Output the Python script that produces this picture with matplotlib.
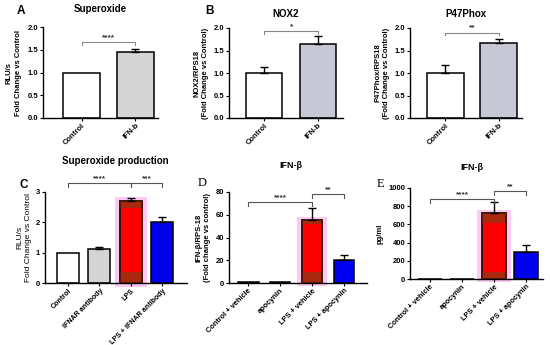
import matplotlib.pyplot as plt
import numpy as np

plt.rcParams['font.family'] = ['Liberation Sans', 'DejaVu Sans']
plt.rcParams['font.weight'] = 'bold'

# ============== DATA ==============
labels_ab = ['Control', 'IFN-b']
superoxide = [1.0, 1.46]
superoxide_err = [0.0, 0.06]
nox2 = [1.0, 1.65]
nox2_err = [0.13, 0.17]
p47 = [1.0, 1.66]
p47_err = [0.18, 0.10]

labels_c = ['Control', 'IFNAR antibody', 'LPS', 'LPS + IFNAR antibody']
superox_prod = [1.0, 1.13, 2.7, 2.0]
superox_prod_err = [0.0, 0.07, 0.10, 0.17]

labels_de = ['Control + vehicle', 'apocynin', 'LPS + vehicle', 'LPS + apocynin']
ifnb_mrna = [1.0, 0.5, 55, 20]
ifnb_mrna_err = [0.0, 0.0, 11, 5]
ifnb_pg = [0, 0, 720, 300]
ifnb_pg_err = [0, 0, 125, 70]

W, H = 550, 345
fig = plt.figure(figsize=(5.5, 3.45), dpi=100)


def add_ax(l, r, t, b):
    return fig.add_axes([l / W, 1 - b / H, (r - l) / W, (b - t) / H])


def style(ax, ymax, ticks, ticklabels, xlabels, xlim, xfs=5.5):
    ax.set_ylim(0, ymax)
    ax.set_xlim(*xlim)
    ax.set_yticks(ticks)
    ax.set_yticklabels(ticklabels, fontsize=5.5, fontweight='bold')
    ax.set_xticks(range(len(xlabels)))
    ax.set_xticklabels(xlabels, rotation=45, ha='right', rotation_mode='anchor',
                       fontsize=xfs, fontweight='bold')
    for s in ['top', 'right']:
        ax.spines[s].set_visible(False)
    for s in ['left', 'bottom']:
        ax.spines[s].set_linewidth(1.0)
    ax.tick_params(length=2.5, width=0.8, pad=1)
    ax.tick_params(axis='x', pad=0.5)
    ax.patch.set_alpha(0)


def bars(ax, vals, errs, colors, width, lps=None, bands=(0.1, 0.1)):
    x = np.arange(len(vals))
    if lps is not None:
        v = vals[lps]
        ax.bar(x[lps], v * 1.1, bottom=-v * 0.05, width=width + 0.3,
               color='#ff66dd', alpha=0.35, lw=0, clip_on=False, zorder=1)
    ax.bar(x, vals, width=width, color=colors, edgecolor='black', lw=1.1, zorder=2)
    if lps is not None:
        v = vals[lps]
        ax.bar(x[lps], v * bands[0], width=width, color='#a82810', lw=0, zorder=2.5)
        ax.bar(x[lps], v * bands[1], bottom=v * (1 - bands[1]), width=width,
               color='#a82810', lw=0, zorder=2.5)
        ax.bar(x[lps], v, width=width, fill=False, edgecolor='#3a1a00', lw=1.1, zorder=2.6)
    for xi, v, e in zip(x, vals, errs):
        if e > 0:
            ax.errorbar(xi, v, yerr=[[0], [e]], color='black', lw=1.0, capsize=3,
                        capthick=1.0, zorder=3)


def bracket(ax, x1, x2, y, drop, text, color='#888888', fs=6):
    ax.plot([x1, x1, x2, x2], [y - drop, y, y, y - drop], color=color, lw=0.8,
            clip_on=False, zorder=4)
    ax.text((x1 + x2) / 2, y + drop * 0.3, text, ha='center', va='bottom',
            fontsize=fs, fontweight='bold', color='#333333')


# ---- A: Superoxide
ax = add_ax(43, 158, 27, 118)
bars(ax, superoxide, superoxide_err, ['white', '#d4d4d4'], 0.68)
style(ax, 2.0, [0, 0.5, 1.0, 1.5, 2.0], ['0.0', '0.5', '1.0', '1.5', '2.0'],
      labels_ab, (-0.72, 1.42))
bracket(ax, 0, 1, 1.67, 0.06, '****')
ax.set_title('Superoxide', fontsize=7, fontweight='bold', pad=11)
ax.set_ylabel('RLU/s\nFold Change vs Control', fontsize=5.5, fontweight='bold',
              labelpad=4, linespacing=1.4)
fig.text(17 / W, 1 - 11 / H, 'A', fontsize=8.5, fontweight='bold', va='center')

# ---- B: NOX2
ax = add_ax(229, 343, 28, 118)
bars(ax, nox2, nox2_err, ['white', '#c6c8d6'], 0.67)
style(ax, 2.0, [0, 0.5, 1.0, 1.5, 2.0], ['0.0', '0.5', '1.0', '1.5', '2.0'],
      labels_ab, (-0.65, 1.46))
bracket(ax, 0, 1, 1.93, 0.06, '*')
ax.set_title('NOX2', fontsize=7, fontweight='bold', pad=8)
ax.set_ylabel('NOX2/RPS18\n(Fold Change vs Control)', fontsize=5.5, fontweight='bold',
              labelpad=3, linespacing=1.3)
fig.text(205 / W, 1 - 11 / H, 'B', fontsize=8.5, fontweight='bold', va='center')

# ---- P47Phox
ax = add_ax(410, 522, 28, 118)
bars(ax, p47, p47_err, ['white', '#c6c8d6'], 0.69)
style(ax, 2.0, [0, 0.5, 1.0, 1.5, 2.0], ['0.0', '0.5', '1.0', '1.5', '2.0'],
      labels_ab, (-0.66, 1.43))
bracket(ax, 0, 1, 1.9, 0.06, '**')
ax.set_title('P47Phox', fontsize=7, fontweight='bold', pad=8)
ax.set_ylabel('P47Phox/RPS18\n(Fold Change vs Control)', fontsize=5.5, fontweight='bold',
              labelpad=3, linespacing=1.3)

# ---- C: Superoxide production
ax = add_ax(45, 187, 192, 283)
bars(ax, superox_prod, superox_prod_err, ['white', '#d4d4d4', '#ff0000', '#0000ee'],
     0.7, lps=2, bands=(0.13, 0.09))
style(ax, 3, [0, 1, 2, 3], ['0', '1', '2', '3'], labels_c, (-0.73, 3.78), xfs=5.1)
bracket(ax, 0, 2, 3.3, 0.12, '****', color='#555555')
bracket(ax, 2, 3, 3.3, 0.12, '***', color='#555555')
fig.text(115 / W, 1 - 161 / H, 'Superoxide production', fontsize=7, fontweight='bold',
         ha='center', va='center')
ax.set_ylabel('RLU/s\nFold Change vs Control', fontsize=6, fontweight='normal',
              labelpad=3, linespacing=1.2)
fig.text(20 / W, 1 - 185 / H, 'C', fontsize=8.5, fontweight='bold', va='center')

# ---- D: IFN-b mRNA
ax = add_ax(229, 367, 192, 283)
bars(ax, ifnb_mrna, ifnb_mrna_err, ['white', 'white', '#ff0000', '#0000ee'],
     0.65, lps=2, bands=(0.18, 0.05))
style(ax, 80, [0, 20, 40, 60, 80], ['0', '20', '40', '60', '80'], labels_de,
      (-0.6, 3.72), xfs=5.3)
bracket(ax, 0, 2, 71, 3, '****', color='#555555')
bracket(ax, 2, 3, 78, 3, '**', color='#555555')
fig.text(291 / W, 1 - 165 / H, 'IFN-β', fontsize=6.5, fontweight='bold',
         ha='center', va='center')
ax.set_ylabel('IFN-β/RPS-18\n(Fold change vs control)', fontsize=5.5, fontweight='bold',
              labelpad=3, linespacing=1.3)
fig.text(198 / W, 1 - 183 / H, 'D', fontsize=9, family='Liberation Serif',
         fontweight='normal', va='center')

# ---- E: IFN-b protein
ax = add_ax(410, 543, 188, 279)
bars(ax, ifnb_pg, ifnb_pg_err, ['white', 'white', '#ff0000', '#0000ee'],
     0.75, lps=2, bands=(0.11, 0.14))
style(ax, 1000, [0, 200, 400, 600, 800, 1000],
      ['0', '200', '400', '600', '800', '1000'], labels_de, (-0.63, 3.53), xfs=5.3)
bracket(ax, 0, 2, 880, 40, '****', color='#555555')
bracket(ax, 2, 3, 965, 40, '**', color='#555555')
fig.text(472 / W, 1 - 167 / H, 'IFN-β', fontsize=6.5, fontweight='bold',
         ha='center', va='center')
ax.set_ylabel('pg/ml', fontsize=5.5, fontweight='bold', labelpad=3)
fig.text(377 / W, 1 - 184 / H, 'E', fontsize=9, family='Liberation Serif',
         fontweight='normal', va='center')

fig.savefig('out.png', dpi=100)
